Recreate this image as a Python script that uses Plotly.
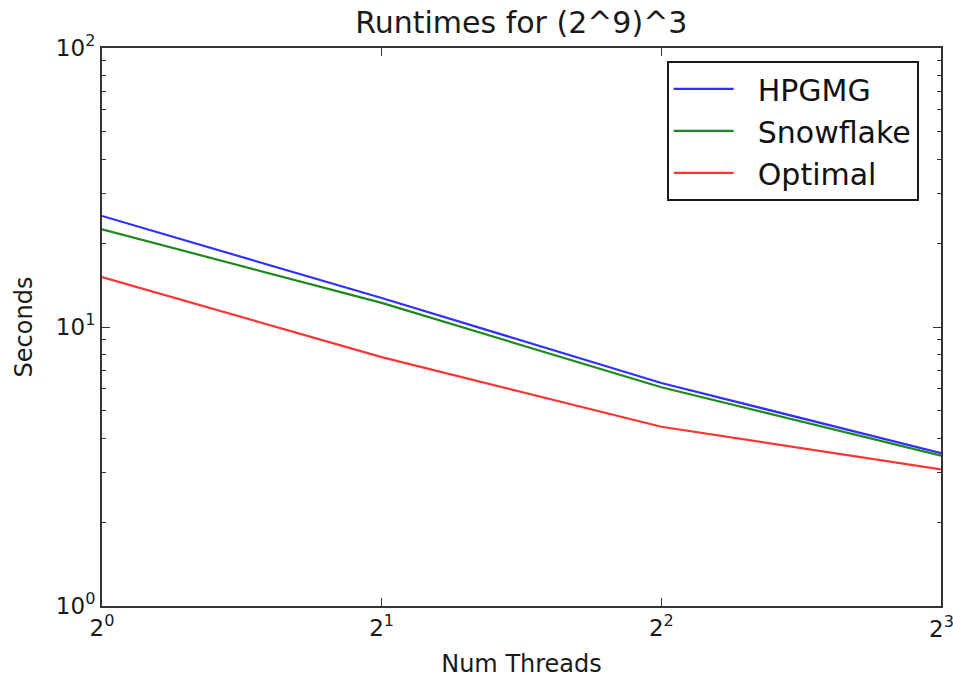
import math
import plotly.graph_objects as go

threads = [1, 2, 4, 8]
hpgmg = [25.0, 12.7, 6.3, 3.53]
snowflake = [22.4, 12.2, 6.08, 3.46]
optimal = [15.1, 7.8, 4.39, 3.09]

x_ticks = [1, 2, 4, 8]
x_labels = ["2<sup>0</sup>", "2<sup>1</sup>", "2<sup>2</sup>", "2<sup>3</sup>"]
y_ticks = [1, 10, 100]
y_labels = ["10<sup>0</sup>", "10<sup>1</sup>", "10<sup>2</sup>"]
y_minor = [m * d for d in (1, 10) for m in range(2, 10)]

pad = "\u00a0\u00a0"
fig = go.Figure()
fig.add_trace(go.Scatter(x=threads, y=hpgmg, mode="lines", name=pad + "HPGMG",
                         line=dict(color="#3030ff", width=2.2)))
fig.add_trace(go.Scatter(x=threads, y=snowflake, mode="lines", name=pad + "Snowflake",
                         line=dict(color="#1a8a1a", width=2.2)))
fig.add_trace(go.Scatter(x=threads, y=optimal, mode="lines", name=pad + "Optimal",
                         line=dict(color="#ff3535", width=2.2)))

font = "DejaVu Sans, sans-serif"
fig.update_layout(
    width=953, height=678,
    margin=dict(l=102, r=12, t=48, b=72, autoexpand=False),
    paper_bgcolor="white", plot_bgcolor="white",
    font=dict(family=font, color="#1a1a1a", size=23),
    title=dict(text="Runtimes for (2^9)^3", x=0.547, xanchor="center",
               y=0.967, yanchor="middle", font=dict(size=30)),
    showlegend=True,
    legend=dict(x=0.673, y=0.977, xanchor="left", yanchor="top",
                bordercolor="#1a1a1a", borderwidth=2, bgcolor="white",
                font=dict(size=30, color="#111"), tracegroupgap=0, itemwidth=60),
)

# last x tick label sits past the plot edge, draw it as an annotation
last_label = x_labels[-1]
fig.add_annotation(x=math.log10(x_ticks[-1]), y=0, xref="x", yref="paper",
                   text=last_label, showarrow=False, xanchor="center",
                   yanchor="top", yshift=-4, font=dict(size=23))

fig.update_xaxes(
    type="log", range=[0, 0.90309], tickvals=x_ticks,
    ticktext=x_labels[:-1] + [""],
    ticks="inside", ticklen=8, tickcolor="#333", showline=True, linecolor="#333",
    linewidth=2, mirror="ticks", showgrid=False, zeroline=False, automargin=False,
    title=dict(text="Num Threads", font=dict(size=24), standoff=26),
)
fig.update_yaxes(
    type="log", range=[0, 2], tickvals=y_ticks, ticktext=y_labels,
    ticks="inside", ticklen=8, tickcolor="#333", showline=True, linecolor="#333",
    linewidth=2, mirror="ticks", showgrid=False, zeroline=False, automargin=False,
    minor=dict(tickvals=y_minor, ticks="inside", ticklen=4, tickcolor="#333", showgrid=False),
    title=dict(text="Seconds", font=dict(size=24), standoff=16),
)

fig.write_html("out.html", config={"displayModeBar": False},
               post_script="document.body.style.margin='0';")
